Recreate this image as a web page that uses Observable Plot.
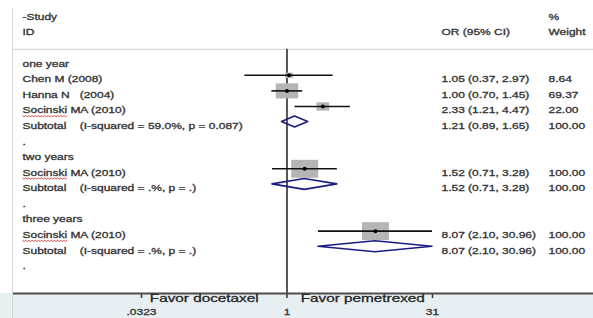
<!DOCTYPE html>
<html>
<head>
<meta charset="utf-8">
<script src="https://cdn.jsdelivr.net/npm/d3@7"></script>
<script src="https://cdn.jsdelivr.net/npm/@observablehq/plot@0.6"></script>
<style>
  html, body { margin: 0; padding: 0; background: #fff; }
  #chart { position: relative; width: 593px; height: 318px; overflow: hidden; }
  #chart svg text { white-space: pre; stroke: #2e2e2e; stroke-width: 0.3px; paint-order: stroke; }
  #border { position: absolute; left: 12px; top: 8px; width: 0; height: 310px; border-left: 1px solid #d3d7d9; }
  #chart g[aria-label="x-axis tick"] path { stroke-width: 1.5; }
</style>
</head>
<body>
<div id="chart"><div id="border"></div></div>
<script>
// ---- data ----
const groups = ["one year", "two years", "three years"];
const studyLabels = ["Chen M (2008)", "Hanna N   (2004)", "Socinski MA (2010)", "Socinski MA (2010)", "Socinski MA (2010)"];
const studyGroup = [0, 0, 0, 1, 2];
const studyOR = [1.05, 1.00, 2.33, 1.52, 8.07];
const studyLo = [0.37, 0.70, 1.21, 0.71, 2.10];
const studyHi = [2.97, 1.45, 4.47, 3.28, 30.96];
const studyWeight = [8.64, 69.37, 22.00, 100.00, 100.00];
const subtotalLabels = [
  "Subtotal    (I-squared = 59.0%, p = 0.087)",
  "Subtotal    (I-squared = .%, p = .)",
  "Subtotal    (I-squared = .%, p = .)"
];
const subtotalOR = [1.21, 1.52, 8.07];
const subtotalLo = [0.89, 0.71, 2.10];
const subtotalHi = [1.65, 3.28, 30.96];
const subtotalWeight = [100.00, 100.00, 100.00];
const blankLabel = ".";
const headerStudy = ["-Study", "ID"];
const headerOR = ["OR (95% CI)"];
const headerWeight = ["%", "Weight"];
const tickValues = [0.0323, 1, 31];
const tickLabels = [".0323", "1", "31"];
const favorLabels = ["Favor docetaxel", "Favor pemetrexed"];

// ---- build rows ----
const rows = [];
let r = 0;
groups.forEach((g, gi) => {
  rows.push({row: r++, kind: "group", label: g});
  studyGroup.forEach((sg, i) => {
    if (sg === gi) rows.push({row: r++, kind: "study", label: studyLabels[i], or: studyOR[i], lo: studyLo[i], hi: studyHi[i], w: studyWeight[i]});
  });
  rows.push({row: r++, kind: "subtotal", label: subtotalLabels[gi], or: subtotalOR[gi], lo: subtotalLo[gi], hi: subtotalHi[gi], w: subtotalWeight[gi]});
  rows.push({row: r++, kind: "blank", label: blankLabel});
});
const axisRow = r + 1;
const separatorRow = -2 / 3;
const studies = rows.filter(d => d.kind === "study");
const subtotals = rows.filter(d => d.kind === "subtotal");
const estimates = rows.filter(d => d.or != null);
const fmt = v => v.toFixed(2);

const halfH = 0.35;
const diamonds = subtotals.flatMap((d, i) => [
  {g: i, x: d.lo, y1: d.row, y2: d.row},
  {g: i, x: d.or, y1: d.row - halfH, y2: d.row + halfH},
  {g: i, x: d.hi, y1: d.row, y2: d.row}
]);

const headerRows = [
  ...headerStudy.map((t, i) => ({row: -3 + i, text: t, col: "study"})),
  ...headerOR.map(t => ({row: -2, text: t, col: "or"})),
  ...headerWeight.map((t, i) => ({row: -3 + i, text: t, col: "w"}))
];

const wideSquare = {
  draw(ctx, size) {
    const rr = Math.sqrt(size / Math.PI);
    const w = rr * 1.2, h = rr * 0.8;
    ctx.moveTo(-w, -h); ctx.lineTo(w, -h); ctx.lineTo(w, h); ctx.lineTo(-w, h); ctx.closePath();
  }
};

const textColor = "#333";
const leftX = 10, orX = 429, wX = 536, textDy = 4;

const chart = Plot.plot({
  width: 593, height: 318,
  marginTop: 0, marginBottom: 25, marginLeft: 12, marginRight: 0,
  style: {
    fontFamily: "'Liberation Sans', Arial, sans-serif",
    fontSize: "9px",
    color: "#333",
    background: "linear-gradient(to bottom, #ffffff 0px, #ffffff 293px, #e7eff2 293px)",
    overflow: "visible"
  },
  x: {type: "log", domain: [tickValues[0], tickValues[2]], range: [141, 432],
      ticks: tickValues, tickFormat: d => tickLabels[tickValues.indexOf(d)],
      tickSize: 5, tickPadding: 10, label: null},
  y: {domain: [-3.8, 15], range: [0, 293], axis: null},
  r: {type: "sqrt", domain: [0, 100], range: [0, 11.25]},
  marks: [
    Plot.ruleY([separatorRow], {stroke: "#d0d0d0", strokeWidth: 1}),
    Plot.ruleY([axisRow], {stroke: "#4d4d4d", strokeWidth: 2}),
    Plot.ruleX([1], {y1: separatorRow, y2: axisRow, stroke: "#444", strokeWidth: 1.8}),
    Plot.dot(studies, {x: "or", y: "row", r: "w", symbol: wideSquare, fill: "#b5b5b5", stroke: "none"}),
    Plot.ruleY(studies, {y: "row", x1: "lo", x2: "hi", stroke: "#111", strokeWidth: 1.6}),
    Plot.dot(studies, {x: "or", y: "row", r: 2, fill: "#000", stroke: "none"}),
    Plot.areaY(diamonds, {x: "x", y1: "y1", y2: "y2", z: "g", fill: "none", stroke: "#1c1c80", strokeWidth: 1.6, curve: "linear"}),
    Plot.text(rows, {y: "row", text: "label", frameAnchor: "left", textAnchor: "start", dx: leftX, dy: textDy, fill: textColor}),
    Plot.text(estimates, {y: "row", text: d => `${fmt(d.or)} (${fmt(d.lo)}, ${fmt(d.hi)})`, frameAnchor: "left", textAnchor: "start", dx: orX, dy: textDy, fill: textColor}),
    Plot.text(estimates, {y: "row", text: d => fmt(d.w), frameAnchor: "left", textAnchor: "start", dx: wX, dy: textDy, fill: textColor}),
    Plot.text(headerRows.filter(d => d.col === "study"), {y: "row", text: "text", frameAnchor: "left", textAnchor: "start", dx: leftX, dy: textDy, fill: textColor}),
    Plot.text(headerRows.filter(d => d.col === "or"), {y: "row", text: "text", frameAnchor: "left", textAnchor: "start", dx: orX, dy: textDy, fill: textColor}),
    Plot.text(headerRows.filter(d => d.col === "w"), {y: "row", text: "text", frameAnchor: "left", textAnchor: "start", dx: wX, dy: textDy, fill: textColor}),
    Plot.text([favorLabels[0]], {x: () => Math.sqrt(tickValues[0] * tickValues[1]), text: d => d, frameAnchor: "bottom", dy: 8, dx: -10, fontSize: 11.5, fill: "#222"}),
    Plot.text([favorLabels[1]], {x: () => Math.sqrt(tickValues[1] * tickValues[2]), text: d => d, frameAnchor: "bottom", dy: 8, dx: 3, fontSize: 11.5, fill: "#222"})
  ]
});

document.getElementById("chart").appendChild(chart);

// the reference is horizontally stretched: widen glyphs accordingly
const SX = 1.33;
const texts = Array.from(chart.querySelectorAll("text"));
for (const t of texts) {
  const L = t.getComputedTextLength();
  if (L > 0) {
    t.setAttribute("textLength", (L * SX).toFixed(2));
    t.setAttribute("lengthAdjust", "spacingAndGlyphs");
  }
}
// red spell-check squiggle under "Socinski" (decoration of the screenshot)
const NS = "http://www.w3.org/2000/svg";
for (const t of texts) {
  if (!t.textContent.startsWith("Socinski")) continue;
  const a = t.getStartPositionOfChar(0), b = t.getEndPositionOfChar(7);
  const m = t.getCTM(), svgM = chart.getScreenCTM ? chart.getCTM() : null;
  const p0 = new DOMPoint(a.x, a.y).matrixTransform(m);
  const p1 = new DOMPoint(b.x, b.y).matrixTransform(m);
  const yb = p0.y + 2.2;
  let d = `M${p0.x},${yb}`;
  for (let x = p0.x, k = 0; x < p1.x; x += 1.6, k++) d += ` L${Math.min(x + 1.6, p1.x)},${yb + (k % 2 ? 0 : 1.3)}`;
  const path = document.createElementNS(NS, "path");
  path.setAttribute("d", d);
  path.setAttribute("fill", "none");
  path.setAttribute("stroke", "#d42020");
  path.setAttribute("stroke-width", "0.8");
  chart.appendChild(path);
}
</script>
</body>
</html>
